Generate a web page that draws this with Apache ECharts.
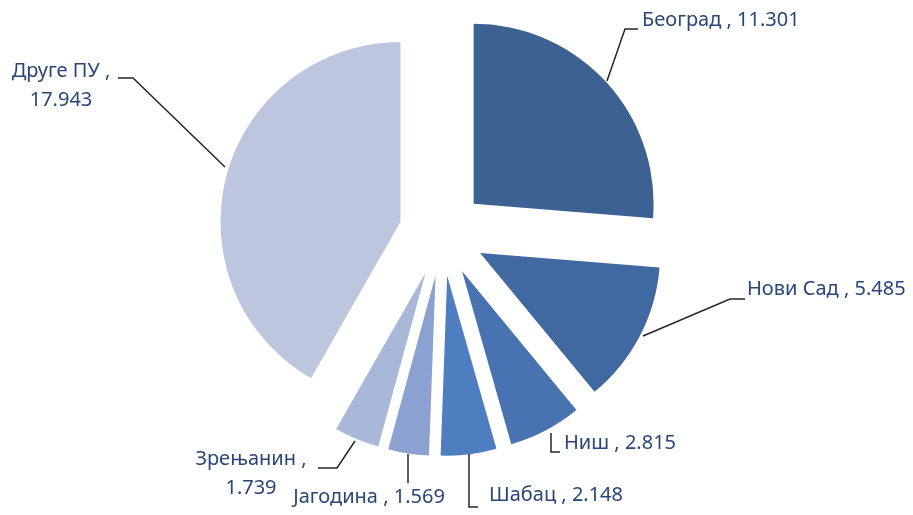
<!DOCTYPE html>
<html>
<head>
<meta charset="utf-8">
<script src="https://cdn.jsdelivr.net/npm/echarts@6/dist/echarts.min.js"></script>
<style>
html,body{margin:0;padding:0;background:#fff;}
#chart{width:913px;height:515px;}
</style>
</head>
<body>
<div id="chart"></div>
<script>
// Data
const categories = ['Београд', 'Нови Сад', 'Ниш', 'Шабац', 'Јагодина', 'Зрењанин', 'Друге ПУ'];
const values = [11301, 5485, 2815, 2148, 1569, 1739, 17943];
const colors = ['#3C6193', '#4068A1', '#4773B1', '#4E7DC0', '#8AA1D1', '#A8B8D9', '#BCC7DF'];

// label layout (style/placement only)
const labelCfg = [
  {x: 642, y: 20, align: 'left', line: [[607, 81], [625, 29], [638, 29]]},
  {x: 747, y: 289, align: 'left', line: [[643, 336], [730, 299], [745, 299]]},
  {x: 564, y: 443, align: 'left', line: [[551, 433], [551, 452], [560, 452]]},
  {x: 489, y: 495, align: 'left', line: [[469, 454], [469, 507], [478, 507]]},
  {x: 369, y: 497, align: 'center', line: [[408, 454], [408, 483]]},
  {x: 251, y: 474, align: 'center', line: [[355, 441], [337, 468], [318, 468]]},
  {x: 61, y: 86, align: 'center', line: [[225, 167], [133, 78], [118, 78]]}
];

function fmt(v) {
  return String(v).replace(/\B(?=(\d{3})+(?!\d))/g, '.');
}

const twoLine = {'Зрењанин': true, 'Друге ПУ': true};

const chart = echarts.init(document.getElementById('chart'), null, {renderer: 'canvas'});
chart.setOption({
  backgroundColor: '#ffffff',
  animation: false,
  series: [{
    type: 'pie',
    center: [442, 233],
    radius: [0, 180],
    startAngle: 90,
    clockwise: true,
    selectedMode: 'multiple',
    selectedOffset: 43,
    silent: true,
    data: categories.map((c, i) => ({
      name: c,
      value: values[i],
      selected: true,
      itemStyle: {color: colors[i]}
    })),
    label: {show: false},
    labelLine: {show: false}
  }, {
    type: 'pie',
    center: [442, 233],
    radius: [0, 180],
    startAngle: 90,
    clockwise: true,
    selectedMode: false,
    avoidLabelOverlap: false,
    silent: true,
    z: 3,
    data: categories.map((c, i) => ({
      name: c,
      value: values[i],
      itemStyle: {color: 'rgba(0,0,0,0)'}
    })),
    label: {
      show: true,
      position: 'outside',
      fontFamily: 'Noto Sans',
      fontSize: 20,
      color: '#2A4677',
      lineHeight: 29,
      formatter: p => twoLine[p.name] ? p.name + ' ,\n' + fmt(p.value) : p.name + ' , ' + fmt(p.value)
    },
    labelLine: {
      show: true,
      lineStyle: {color: '#262626', width: 1.5}
    },
    labelLayout: function (params) {
      const c = labelCfg[params.dataIndex];
      return {
        x: c.x,
        y: c.y,
        align: c.align,
        verticalAlign: 'middle',
        labelLinePoints: c.line
      };
    }
  }]
});
</script>
</body>
</html>
